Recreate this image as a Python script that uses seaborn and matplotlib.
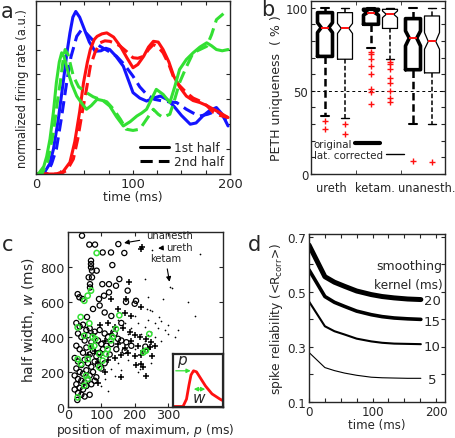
import numpy as np
import pandas as pd
import matplotlib
matplotlib.use("Agg")
import matplotlib.pyplot as plt
from matplotlib.lines import Line2D
import seaborn as sns

# ---- panel a: firing rate curves (time in ms, rate in a.u.) ----
blue1_t = [0, 8, 14, 18, 23, 28, 32, 35, 38, 41, 45, 50, 55, 61, 67, 72, 76, 82, 90, 95, 100,
           107, 114, 121, 128, 135, 142, 150, 159, 165, 172, 179, 186, 192, 198]
blue1_y = [0, 0.02, 0.4, 1.0, 2.2, 3.67, 4.9, 5.67, 6.3, 6.53, 6.3, 5.8, 5.3, 4.93, 4.95, 5.05,
           5.0, 4.75, 4.33, 3.8, 3.27, 3.05, 2.93, 3.05, 3.13, 3.0, 2.73, 2.35, 2.0, 2.05, 2.33,
           2.55, 2.67, 2.4, 1.93]
blue2_t = [0, 11, 16, 21, 26, 31.6, 36, 42, 47, 52, 58, 66, 74, 83, 91, 100, 107, 114, 122, 131,
           138, 145, 155, 162, 169, 177, 186, 192, 198]
blue2_y = [0, 0.02, 0.4, 1.0, 2.2, 3.67, 4.7, 5.53, 5.8, 5.65, 5.4, 5.13, 4.95, 4.73, 4.4, 3.93,
           3.5, 3.2, 3.0, 2.93, 2.9, 2.87, 2.6, 2.45, 2.33, 2.4, 2.53, 2.35, 2.07]
red1_t = [0, 21, 28, 35, 40, 45, 49, 53, 56, 60, 63, 68, 73, 80, 87, 94, 100, 105, 111, 116, 121,
          126, 131, 137, 142, 148, 155, 162, 169, 176, 183, 190, 198]
red1_y = [0, 0, 0.1, 0.47, 1.3, 2.5, 3.67, 4.5, 5.0, 5.4, 5.53, 5.63, 5.67, 5.5, 5.13, 4.65, 4.27,
          4.4, 4.73, 5.1, 5.33, 5.3, 5.0, 4.5, 3.93, 3.5, 3.13, 2.95, 2.87, 2.75, 2.6, 2.45, 2.27]
red2_t = [0, 25, 32, 38.5, 43, 47, 52, 56, 61, 66, 71, 76, 82, 87, 94, 100, 105, 111, 116, 121,
          126, 131, 137, 142, 148, 155, 162, 169, 176, 183, 190, 198]
red2_y = [0, 0, 0.15, 0.6, 1.4, 2.33, 3.4, 4.33, 4.9, 5.27, 5.35, 5.33, 5.25, 5.13, 4.9, 4.67,
          4.65, 4.73, 5.0, 5.2, 5.1, 4.87, 4.4, 3.87, 3.55, 3.27, 3.05, 2.93, 2.75, 2.47, 2.35, 2.27]
green1_t = [0, 2.4, 8, 11, 14.4, 18, 21, 24, 26.5, 29, 33, 37, 42, 47, 52, 57, 63, 69, 76, 83, 90,
            97, 104, 109, 114, 119, 124, 131, 138, 143, 148, 155, 162, 169, 176, 181, 186, 192, 198]
green1_y = [0, 0, 0.3, 0.7, 1.4, 2.5, 3.67, 4.5, 4.87, 4.7, 4.1, 3.6, 3.13, 2.85, 2.6, 2.75, 3.0,
            2.95, 2.73, 2.3, 1.93, 2.1, 2.33, 2.45, 2.6, 3.0, 3.4, 3.2, 2.87, 3.5, 4.2, 4.6, 4.87,
            5.1, 5.27, 5.15, 5.0, 4.95, 5.0]
green2_t = [0, 6, 12, 18, 22, 25, 28, 30, 33, 38.5, 44, 52, 59, 66, 73, 80, 87, 93, 100, 107, 114,
            121, 126, 131, 135, 138, 143, 148, 155, 162, 169, 176, 181, 186, 192, 198]
green2_y = [0, 0, 0.5, 1.67, 2.9, 3.67, 4.6, 5.0, 4.8, 3.93, 3.5, 3.27, 3.1, 3.0, 2.9, 2.6, 2.2,
            1.8, 1.75, 1.8, 2.2, 2.6, 2.4, 2.27, 2.35, 2.4, 3.0, 3.67, 4.3, 4.87, 5.0, 5.13, 5.6,
            6.2, 6.4, 6.6]

# ---- panel b: PETH uniqueness box stats (%) ----
box_groups = ["ureth", "ketam.", "unanesth."]
box_med = [88, 87.6, 97, 96, 81.7, 79.7]
box_q1 = [70.7, 69, 90, 87.5, 62.7, 60.8]
box_q3 = [97, 97, 99, 99, 93.4, 95]
box_lo = [34.9, 33.7, 75.5, 69, 30, 30]
box_hi = [100, 100, 100, 100, 100, 100]
box_cilo = [85, 84.5, 95.5, 94, 77, 75]
box_cihi = [91, 90.5, 98.5, 98, 86, 85]
box_fliers = [[31.7, 27], [30, 24],
              [73.5, 72, 69, 65, 60, 51, 49, 42],
              [67.5, 66, 63, 58, 55, 49.6, 45.6, 43],
              [8], [7]]

# ---- panel c: position of maximum p (ms) vs half width w (ms) ----
unan_p = [42, 64, 81, 151, 104, 129, 169, 69, 69, 69, 72, 86, 133, 62, 72, 66, 66, 103, 123, 144,
          154, 29, 34, 44, 123, 108, 93, 179, 204, 174, 57, 75, 95, 110, 130, 160, 200,
          25, 35, 45, 55, 65, 80, 95, 110, 120, 140, 150, 30, 40, 50, 60, 70, 90, 100, 115, 130,
          25, 35, 45, 55, 65, 75, 85, 95, 105, 125, 20, 30, 40, 50, 60, 70, 80, 90, 100, 110,
          25, 35, 45, 55, 65, 75, 85, 20, 30, 40, 50, 60, 70, 80, 25, 35, 45, 55, 30, 40, 50, 65,
          20, 28, 160, 175, 190, 232, 145, 170]
unan_w = [979, 928, 928, 931, 883, 883, 880, 836, 817, 798, 779, 779, 811, 741, 741, 702, 683, 702,
          702, 693, 731, 645, 627, 617, 655, 636, 617, 665, 607, 600, 514, 560, 580, 540, 520, 480,
          590, 480, 460, 470, 440, 450, 430, 440, 420, 400, 420, 390, 420, 400, 380, 410, 370, 380,
          360, 350, 360, 350, 330, 310, 340, 300, 320, 290, 310, 330, 300, 280, 260, 240, 270, 250,
          230, 260, 240, 220, 250, 220, 200, 190, 210, 180, 200, 170, 180, 160, 150, 140, 160, 130,
          150, 130, 110, 100, 120, 80, 70, 60, 70, 100, 40, 380, 370, 350, 345, 330, 320]
ureth_p = [219, 221, 184, 174, 220, 130, 150, 170, 190, 120, 140, 165, 185, 200, 215, 235, 250,
           262, 247, 240, 253, 220, 200, 180, 160, 140, 120, 100, 90, 80, 70, 110, 130, 150, 170,
           190, 210, 225, 219, 224, 234, 160, 110, 90, 75, 60, 95, 205]
ureth_w = [903, 914, 714, 617, 570, 620, 560, 540, 520, 480, 460, 450, 430, 410, 400, 390, 370,
           350, 345, 330, 293, 300, 290, 310, 300, 280, 270, 300, 260, 320, 350, 380, 420, 360, 340,
           380, 350, 320, 246, 229, 179, 170, 200, 140, 420, 300, 470, 240]
ketam_p = [251, 396, 231, 306, 312, 286, 239, 238, 245, 253, 273, 300, 280, 260, 240, 290, 270,
           250, 230, 210, 200, 190, 260, 280, 240, 300, 320, 180, 170, 150, 130, 220, 230, 200,
           180, 150, 130, 110, 100, 120, 140, 160, 250, 210, 215, 330, 360, 380]
ketam_w = [899, 874, 731, 685, 680, 617, 626, 560, 555, 550, 514, 470, 490, 480, 500, 440, 450,
           430, 460, 480, 520, 450, 400, 380, 410, 420, 400, 420, 480, 500, 440, 420, 380, 330,
           270, 250, 220, 160, 120, 90, 180, 210, 250, 200, 220, 440, 600, 520]
green_p = [29, 64, 49, 74, 82, 69, 79, 134, 129, 144, 154, 119, 94, 104, 29, 39, 59, 54, 59, 94,
           49, 29, 114, 234, 244, 226, 86, 69, 59, 49, 38]
green_w = [455, 478, 407, 400, 389, 343, 350, 400, 381, 446, 524, 331, 303, 265, 274, 246, 274,
           179, 160, 227, 122, 55, 303, 322, 417, 312, 880, 665, 636, 607, 514]

# inset schematic: a single peaked response
inset_x = [0.01, 0.2, 0.27, 0.32, 0.36, 0.41, 0.47, 0.55, 0.65, 0.78, 0.94, 1.0]
inset_y = [0, 0, 0.14, 0.41, 0.6, 0.68, 0.66, 0.54, 0.39, 0.24, 0.14, 0.11]

# ---- panel d: spike reliability vs time for several smoothing kernels ----
rel_t = [0, 25, 40, 56, 75, 98, 115, 134, 155, 176]
rel_20 = [0.67, 0.555, 0.535, 0.52, 0.503, 0.49, 0.483, 0.478, 0.474, 0.472]
rel_15 = [0.58, 0.483, 0.462, 0.447, 0.43, 0.417, 0.41, 0.405, 0.402, 0.40]
rel_10 = [0.465, 0.375, 0.357, 0.345, 0.33, 0.32, 0.315, 0.312, 0.311, 0.31]
rel_5 = [0.28, 0.225, 0.214, 0.205, 0.197, 0.19, 0.188, 0.187, 0.186, 0.186]
kernels = ["20", "15", "10", "5"]

sns.set_style("ticks")
plt.rcParams.update({
    "font.family": ["DejaVu Sans"],
    "font.size": 8.8,
    "xtick.direction": "in", "ytick.direction": "in",
    "xtick.top": True, "ytick.right": True,
    "xtick.major.size": 3, "ytick.major.size": 3,
    "xtick.major.pad": 2, "ytick.major.pad": 2,
    "xtick.labelsize": 9, "ytick.labelsize": 9,
    "axes.linewidth": 1.0,
})

W, H = 456, 439
fig = plt.figure(figsize=(W / 100, H / 100), dpi=100)


def px_axes(x0, y0, x1, y1):
    return fig.add_axes([x0 / W, 1 - y1 / H, (x1 - x0) / W, (y1 - y0) / H])


BLUE, RED, GREEN = "#1414ff", "#ff1010", "#33e033"

# ---------------- a ----------------
ax = px_axes(36, 2, 230, 175)
curves = [(blue1_t, blue1_y, BLUE, "-"), (blue2_t, blue2_y, BLUE, "--"),
          (red1_t, red1_y, RED, "-"), (red2_t, red2_y, RED, "--"),
          (green1_t, green1_y, GREEN, "-"), (green2_t, green2_y, GREEN, "--")]
for t, y, c, ls in curves:
    sns.lineplot(x=t, y=y, color=c, linestyle=ls, lw=2.2, ax=ax, sort=False)
    if ls == "--":
        ax.lines[-1].set_dashes((4, 2))
ax.set_xlim(0, 200)
ax.set_ylim(0, 6.95)
ax.set_xticks(np.arange(0, 201, 25))
ax.set_xticklabels(["0", "", "", "", "100", "", "", "", "200"])
ax.tick_params(labelsize=9.4)
ax.set_yticks(np.arange(1, 7))
ax.set_yticklabels([])
ax.set_xlabel("time (ms)", labelpad=0)
ax.set_ylabel("normalized firing rate (a.u.)", labelpad=3, fontsize=8.3)
hs = [Line2D([], [], color="k", lw=2.2), Line2D([], [], color="k", lw=2.2, dashes=(4, 2))]
ax.legend(hs, ["1st half", "2nd half"], loc="lower right", frameon=False, handlelength=2.4,
          handletextpad=0.4, labelspacing=0.1, borderaxespad=0.1, fontsize=8.7)

# ---------------- b ----------------
ax = px_axes(311, 2, 445, 175)
pos = [1.0, 2.0, 3.3, 4.25, 5.4, 6.35]
ax.axhline(50, color="k", lw=0.7, dashes=(3, 3))
for i in range(6):
    st = dict(med=box_med[i], q1=box_q1[i], q3=box_q3[i], whislo=box_lo[i], whishi=box_hi[i],
              cilo=box_cilo[i], cihi=box_cihi[i], fliers=box_fliers[i])
    thick = i % 2 == 0
    lw = 2.6 if thick else 0.9
    ax.bxp([st], positions=[pos[i]], widths=0.75, shownotches=True, patch_artist=False,
           boxprops=dict(color="k", lw=lw),
           whiskerprops=dict(color="k", lw=1.8 if thick else 1.1, linestyle=(0, (3, 1.5))),
           capprops=dict(color="k", lw=1.5 if thick else 1.0),
           medianprops=dict(color=RED, lw=1.4),
           flierprops=dict(marker="+", markeredgecolor=RED, markersize=4, mew=1.0),
           capwidths=0.4, manage_ticks=False)
ax.set_xlim(0.3, 7.0)
ax.set_ylim(0, 104)
ax.set_yticks(np.arange(0, 101, 10))
ax.set_yticklabels(["0", "", "", "", "", "50", "", "", "", "", "100"])
ax.tick_params(axis="y", labelsize=8.5)
ax.set_xticks([1.3, 3.5, 6.1])
ax.set_xticklabels(box_groups, fontsize=8.3)
ax.tick_params(axis="x", which="major", length=0, pad=5)
ax.set_xticks([2.55, 4.8], minor=True)
ax.tick_params(axis="x", which="minor", length=3, direction="in", top=True)
ax.set_ylabel("PETH uniqueness  ( % )", labelpad=2, fontsize=9)
leg1 = ax.legend([Line2D([], [], color="k", lw=3)], ["original"], loc="center left",
                 bbox_to_anchor=(0.02, 0.173), frameon=False, markerfirst=False,
                 handlelength=2.4, handletextpad=0.3, borderpad=0, borderaxespad=0, fontsize=7.4)
ax.add_artist(leg1)
ax.legend([Line2D([], [], color="k", lw=1)], ["lat. corrected"], loc="center left",
          bbox_to_anchor=(0.02, 0.11), frameon=False, markerfirst=False,
          handlelength=1.8, handletextpad=0.3, borderpad=0, borderaxespad=0, fontsize=7.4)

# ---------------- c ----------------
ax = px_axes(68, 233, 223, 408)
sns.scatterplot(x=unan_p, y=unan_w, marker="o", s=14, facecolor="none", edgecolor="k",
                linewidth=0.9, ax=ax)
sns.scatterplot(x=ureth_p, y=ureth_w, marker="+", s=22, color="k", linewidth=1.1, ax=ax)
sns.scatterplot(x=ketam_p, y=ketam_w, marker=".", s=6, color="k", linewidth=0, ax=ax)
sns.scatterplot(x=green_p, y=green_w, marker="o", s=14, facecolor="none", edgecolor=GREEN,
                linewidth=1.1, ax=ax)
ax.set_xlim(0, 465)
ax.set_ylim(0, 1000)
ax.set_xticks([0, 100, 200, 300])
ax.set_yticks([0, 200, 400, 600, 800])
ax.tick_params(labelsize=9.2, pad=1)
ax.tick_params(axis="y", pad=2.5)
ax.set_xlabel(r"position of maximum, $p$ (ms)", labelpad=-0.5, fontsize=8.8)
ax.set_ylabel(r"half width, $w$ (ms)", labelpad=2, fontsize=10)
arr = dict(arrowstyle="-|>", color="k", lw=0.8, mutation_scale=7)
ax.annotate("unanesth", xy=(160, 935), xytext=(233, 980), ha="left", va="center", fontsize=7.2,
            arrowprops=arr)
ax.annotate("ureth", xy=(262, 906), xytext=(295, 915), ha="left", va="center", fontsize=7.2,
            arrowprops=arr)
ax.annotate("ketam", xy=(306, 700), xytext=(292, 852), ha="center", va="center", fontsize=7.2,
            arrowprops=arr)

axi = px_axes(173, 355, 223, 408)
sns.lineplot(x=inset_x, y=inset_y, color=RED, lw=2.0, ax=axi, sort=False)
axi.set_xlim(0, 1)
axi.set_ylim(-0.01, 1)
axi.set_xticks([])
axi.set_yticks([])
for s in axi.spines.values():
    s.set_linewidth(1.6)
garr = dict(arrowstyle="-|>", color=GREEN, lw=0.9, mutation_scale=6)
axi.annotate("", xy=(0.41, 0.68), xytext=(0.0, 0.68), arrowprops=garr)
axi.annotate("", xy=(0.70, 0.33), xytext=(0.36, 0.33),
             arrowprops=dict(arrowstyle="<|-|>", color=GREEN, lw=0.9, mutation_scale=6))
axi.text(0.2, 0.86, r"$p$", ha="center", va="center", fontsize=11)
axi.text(0.52, 0.17, r"$w$", ha="center", va="center", fontsize=11)

# ---------------- d ----------------
ax = px_axes(309, 235, 445, 403)
for y, lw in zip([rel_20, rel_15, rel_10, rel_5], [3.6, 2.6, 1.5, 0.8]):
    sns.lineplot(x=rel_t, y=y, color="k", lw=lw, ax=ax)
ax.set_xlim(0, 214)
ax.set_ylim(0.1, 0.71)
ax.set_xticks(np.arange(0, 201, 25))
ax.set_xticklabels(["0", "", "", "", "100", "", "", "", "200"])
ax.set_yticks(np.arange(0.1, 0.71, 0.1))
ax.set_yticklabels(["0.1", "", "0.3", "", "0.5", "", "0.7"])
ax.tick_params(labelsize=8.6)
ax.set_xlabel("time (ms)", labelpad=0, fontsize=8.5)
ax.set_ylabel(r"spike reliability (<R$_{\rm corr}$>)", labelpad=2, fontsize=8.8)
ax.text(210, 0.594, "smoothing", ha="right", va="center", fontsize=9)
ax.text(210, 0.528, "kernel (ms)", ha="right", va="center", fontsize=8.7)
for k, yy in zip(kernels, [0.467, 0.394, 0.303, 0.183]):
    ax.text(194, yy, k, ha="center", va="center", fontsize=9.5)

# panel letters
for lab, x, y in [("a", 1, 12), ("b", 261, 10), ("c", 2, 245), ("d", 248, 245)]:
    fig.text(x / W, 1 - y / H, lab, fontsize=15, ha="left", va="center")

fig.savefig("out.png", dpi=100)
